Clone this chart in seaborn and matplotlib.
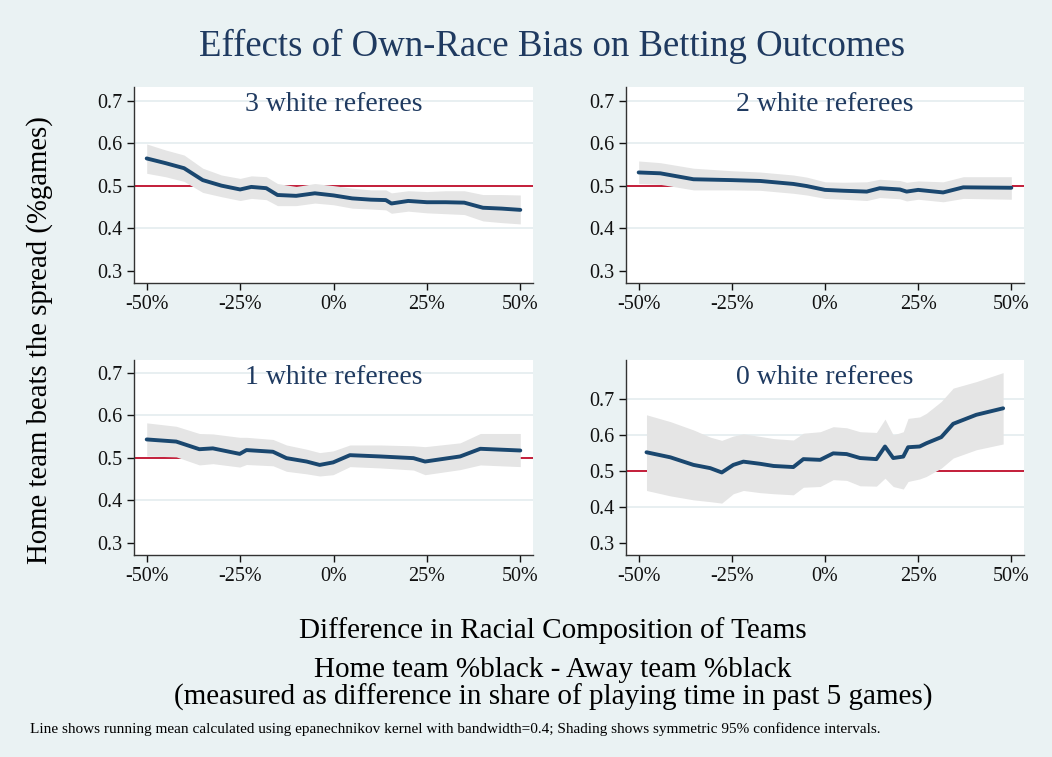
import matplotlib
matplotlib.use("Agg")
import matplotlib.pyplot as plt
import seaborn as sns
import numpy as np
import pandas as pd

# 3 white referees
x3 = [-50, -45, -40, -35, -30, -25, -22, -18, -15, -10, -5, 0, 5, 10, 14, 15.5, 20, 25, 30, 35, 40, 45, 50]
m3 = [0.564, 0.553, 0.541, 0.513, 0.500, 0.491, 0.497, 0.494, 0.478, 0.476, 0.482, 0.477, 0.470, 0.467,
      0.466, 0.458, 0.464, 0.461, 0.461, 0.460, 0.448, 0.446, 0.443]
u3 = [0.598, 0.584, 0.572, 0.541, 0.525, 0.517, 0.523, 0.521, 0.505, 0.498, 0.505, 0.500, 0.494, 0.490,
      0.490, 0.483, 0.488, 0.486, 0.488, 0.488, 0.479, 0.479, 0.478]
l3 = [0.529, 0.521, 0.510, 0.484, 0.474, 0.465, 0.470, 0.467, 0.453, 0.453, 0.459, 0.455, 0.447, 0.445,
      0.443, 0.435, 0.440, 0.436, 0.434, 0.432, 0.417, 0.413, 0.410]

# 2 white referees
x2 = [-50, -44.2, -35.3, -25, -17.4, -8.5, -4.9, 0, 4.9, 11.2, 14.7, 20.1, 21.9, 25, 31.7, 37.1, 50]
m2 = [0.531, 0.529, 0.515, 0.513, 0.511, 0.504, 0.499, 0.490, 0.488, 0.486, 0.494, 0.491, 0.486, 0.490,
      0.484, 0.496, 0.495]
u2 = [0.558, 0.554, 0.541, 0.535, 0.532, 0.525, 0.520, 0.509, 0.508, 0.509, 0.515, 0.512, 0.508, 0.511,
      0.509, 0.521, 0.521]
l2 = [0.505, 0.503, 0.490, 0.490, 0.489, 0.482, 0.478, 0.470, 0.468, 0.465, 0.472, 0.469, 0.464, 0.468,
      0.462, 0.470, 0.468]

# 1 white referees
x1 = [-50, -42.1, -35.9, -32.3, -25.1, -23.3, -16.2, -12.6, -7.2, -3.7, -0.1, 4.4, 12.4, 21.4, 24.5,
      33.9, 39.3, 50]
m1 = [0.543, 0.538, 0.520, 0.522, 0.509, 0.518, 0.514, 0.499, 0.491, 0.483, 0.489, 0.506, 0.503, 0.499,
      0.491, 0.503, 0.521, 0.517]
u1 = [0.582, 0.574, 0.557, 0.556, 0.548, 0.548, 0.543, 0.530, 0.520, 0.512, 0.516, 0.530, 0.530, 0.528,
      0.526, 0.535, 0.557, 0.557]
l1 = [0.504, 0.502, 0.483, 0.486, 0.478, 0.484, 0.481, 0.468, 0.462, 0.457, 0.460, 0.479, 0.476, 0.471,
      0.460, 0.472, 0.483, 0.479]

# 0 white referees
x0 = [-47.9, -41.5, -35.3, -30.8, -27.7, -24.6, -21.9, -17.4, -13.8, -8.5, -5.8, -1.3, 2.2, 5.8, 9.4,
      13.8, 16.1, 18.3, 21.0, 22.3, 25.4, 27.2, 31.2, 34.4, 40.6, 47.8]
m0 = [0.552, 0.538, 0.517, 0.508, 0.496, 0.517, 0.526, 0.520, 0.514, 0.511, 0.533, 0.531, 0.549, 0.547,
      0.536, 0.533, 0.568, 0.536, 0.540, 0.566, 0.568, 0.577, 0.594, 0.631, 0.656, 0.674]
u0 = [0.656, 0.637, 0.614, 0.594, 0.585, 0.597, 0.603, 0.596, 0.590, 0.586, 0.605, 0.609, 0.623, 0.620,
      0.609, 0.607, 0.644, 0.600, 0.609, 0.646, 0.650, 0.660, 0.693, 0.730, 0.748, 0.773]
l0 = [0.446, 0.431, 0.420, 0.415, 0.411, 0.437, 0.446, 0.440, 0.437, 0.434, 0.455, 0.457, 0.476, 0.474,
      0.459, 0.458, 0.480, 0.457, 0.450, 0.471, 0.478, 0.485, 0.508, 0.536, 0.559, 0.575]

titles = ["3 white referees", "2 white referees", "1 white referees", "0 white referees"]
xticks = [-50, -25, 0, 25, 50]
xticklabels = ["-50%", "-25%", "0%", "25%", "50%"]
yticks = [0.3, 0.4, 0.5, 0.6, 0.7]

bg = "#EAF2F3"
navy = "#1A476F"
red = "#C41E3A"
band = "#E5E5E5"

sns.set_style("white")
plt.rcParams["font.family"] = ["Liberation Serif", "DejaVu Serif"]

fig = plt.figure(figsize=(10.52, 7.57), dpi=100, facecolor=bg)

W, H = 1052, 757
boxes = [(134, 87, 533, 283), (626, 87, 1024, 283), (134, 360, 533, 555), (626, 360, 1024, 555)]
ylims = [(0.271, 0.732), (0.271, 0.732), (0.271, 0.730), (0.267, 0.808)]
series = [(x3, m3, u3, l3), (x2, m2, u2, l2), (x1, m1, u1, l1), (x0, m0, u0, l0)]

for i in range(4):
    x0p, y0p, x1p, y1p = boxes[i]
    ax = fig.add_axes([x0p / W, 1 - y1p / H, (x1p - x0p) / W, (y1p - y0p) / H])
    ax.set_facecolor("white")
    xs, ms, us, ls = series[i]
    df = pd.DataFrame({"diff": xs, "mean": ms, "upper": us, "lower": ls})
    ax.set_xlim(-53.4, 53.4)
    ax.set_ylim(*ylims[i])
    for t in yticks[1:]:
        if t < ylims[i][1] - 0.02:
            ax.axhline(t, color="#E4ECEF", lw=1.2, zorder=0)
    ax.axhline(0.5, color=red, lw=1.4, zorder=1)
    ax.fill_between(df["diff"], df["lower"], df["upper"], color=band, lw=0, zorder=2)
    sns.lineplot(data=df, x="diff", y="mean", ax=ax, color=navy, lw=2.8, zorder=3)
    ax.set_xticks(xticks)
    ax.set_xticklabels(xticklabels)
    ax.set_yticks(yticks)
    ax.set_yticklabels(["0.3", "0.4", "0.5", "0.6", "0.7"])
    ax.set_xlabel("")
    ax.set_ylabel("")
    ax.tick_params(axis="both", labelsize=14.5, colors="#111111", length=5, width=1, direction="out",
                   bottom=True, left=True)
    for s in ["top", "right"]:
        ax.spines[s].set_visible(False)
    for s in ["left", "bottom"]:
        ax.spines[s].set_color("#333333")
        ax.spines[s].set_linewidth(1)
    ax.text(0.5, 0.91, titles[i], transform=ax.transAxes, ha="center", va="center",
            fontsize=20, color="#1F3A60")

fig.text(0.525, 1 - 46 / H, "Effects of Own-Race Bias on Betting Outcomes", ha="center", va="center",
         fontsize=26.5, color="#1F3A60")
fig.text(40 / W, 1 - 340 / H, "Home team beats the spread (%games)", rotation=90, ha="center",
         va="center", fontsize=20.7, color="black")
fig.text(553 / W, 1 - 631 / H, "Difference in Racial Composition of Teams", ha="center", va="center",
         fontsize=21, color="black")
fig.text(553 / W, 1 - 670 / H, "Home team %black - Away team %black", ha="center", va="center",
         fontsize=21, color="black")
fig.text(553 / W, 1 - 697 / H, "(measured as difference in share of playing time in past 5 games)",
         ha="center", va="center", fontsize=21, color="black")
fig.text(30 / W, 1 - 729 / H,
         "Line shows running mean calculated using epanechnikov kernel with bandwidth=0.4; "
         "Shading shows symmetric 95% confidence intervals.",
         ha="left", va="center", fontsize=11, color="black")

fig.savefig("out.png", dpi=100, facecolor=bg)
